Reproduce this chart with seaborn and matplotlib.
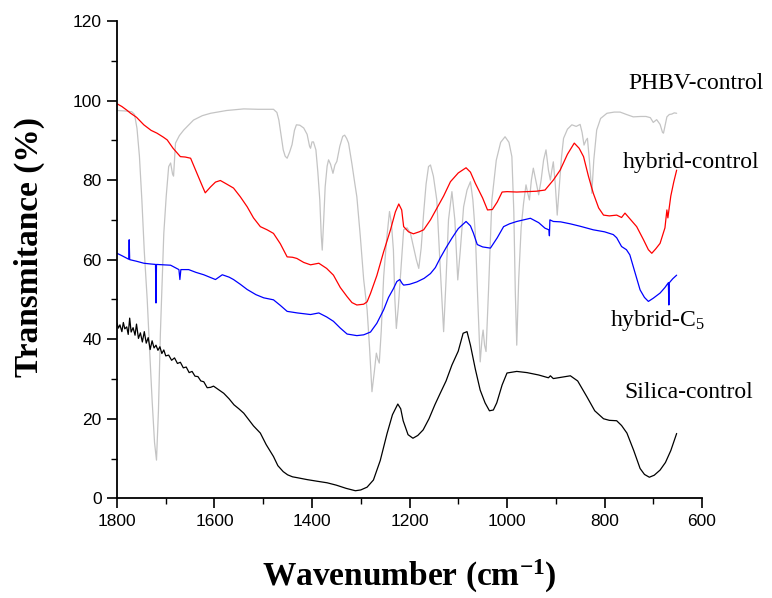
import numpy as np
import pandas as pd
import matplotlib
matplotlib.use("Agg")
import matplotlib.pyplot as plt
from matplotlib.ticker import MultipleLocator
import seaborn as sns

# ---------------- data ----------------
silica_wn = [1800, 1797, 1794, 1790, 1787, 1784, 1780, 1777, 1774, 1771, 1767, 1763, 1760, 1756, 1752, 1748, 1744,
             1740, 1736, 1732, 1728, 1724, 1720, 1716, 1712, 1708, 1704, 1700, 1694, 1688, 1682, 1676,
             1670, 1664, 1658, 1652, 1646, 1640, 1634, 1628, 1622, 1615, 1608, 1602, 1595, 1588, 1581,
             1570, 1560, 1550, 1540, 1530, 1520, 1506, 1494, 1479, 1470, 1459, 1450, 1440, 1431, 1410,
             1390, 1369, 1350, 1330, 1311, 1300, 1287, 1274, 1260, 1246, 1235, 1224, 1218, 1213, 1203,
             1193, 1183, 1172, 1160, 1148, 1137, 1125, 1113, 1100, 1090, 1082, 1075, 1065, 1055, 1045,
             1036, 1028, 1021, 1010, 1000, 980, 959, 935, 915, 911, 905, 890, 870, 855, 836, 820, 802,
             790, 775, 765, 754, 740, 727, 718, 708, 698, 686, 675, 664, 652]
silica_t = [44.0, 42.8, 43.6, 41.9, 44.2, 42.6, 43.1, 41.2, 45.3, 41.8, 42.9, 41.0, 43.8, 40.2, 41.6, 39.3, 41.9,
            39.0, 40.4, 37.4, 39.6, 37.8, 38.5, 37.2, 38.1, 36.4, 37.3, 35.8, 36.0, 34.7, 35.3, 33.9,
            34.2, 32.8, 33.0, 31.6, 31.9, 30.7, 30.6, 29.5, 29.3, 27.8, 27.9, 28.2, 27.6, 27.0, 26.4,
            25.0, 23.5, 22.5, 21.4, 19.8, 18.2, 16.4, 13.5, 10.5, 8.2, 6.7, 5.9, 5.4, 5.2, 4.7,
            4.3, 3.9, 3.3, 2.5, 1.9, 2.1, 2.8, 4.6, 9.5, 16.3, 21.0, 23.7, 22.5, 19.5, 16.0,
            15.1, 15.8, 17.2, 20.0, 23.5, 26.4, 29.5, 33.5, 37.0, 41.5, 41.9, 38.5, 32.5, 27.2, 24.0,
            22.0, 22.2, 24.0, 28.5, 31.5, 31.9, 31.6, 31.0, 30.3, 30.8, 30.1, 30.4, 30.8, 29.5, 25.5, 22.0, 20.0,
            19.6, 19.5, 18.3, 16.4, 12.0, 7.5, 6.0, 5.3, 5.8, 7.1, 9.0, 12.0, 16.3]

hybrid_ctrl_wn = [1800, 1790, 1780, 1772, 1760, 1745, 1730, 1718, 1705, 1697, 1685, 1670, 1660, 1649, 1636,
                  1625, 1619, 1608, 1598, 1588, 1575, 1561, 1547, 1533, 1520, 1506, 1492, 1479, 1465, 1451,
                  1440, 1431, 1417, 1403, 1386, 1370, 1356, 1342, 1328, 1318, 1308, 1294, 1287, 1280, 1267,
                  1253, 1239, 1229, 1222, 1216, 1212, 1202, 1192, 1180, 1171, 1157, 1144, 1130, 1116, 1100,
                  1084, 1075, 1065, 1050, 1040, 1030, 1020, 1010, 1000, 980, 959, 940, 922, 905, 891,
                  876, 862, 852, 843, 833, 823, 812, 802, 790, 775, 765, 758, 746, 734, 720,
                  710, 703, 695, 686, 676, 672, 670, 664, 658, 652]
hybrid_ctrl_t = [99.2, 98.5, 97.6, 96.8, 95.8, 93.9, 92.5, 91.8, 90.8, 90.1, 88.0, 85.9, 85.8, 85.5, 81.7,
                 78.5, 76.8, 78.3, 79.5, 79.9, 79.0, 78.0, 75.8, 73.3, 70.5, 68.3, 67.5, 66.6, 64.0, 60.7,
                 60.6, 60.3, 59.3, 58.7, 59.1, 57.8, 56.1, 53.0, 50.7, 49.2, 48.6, 48.8, 49.4, 51.5, 56.0,
                 62.0, 67.5, 72.0, 74.0, 72.5, 68.3, 67.0, 66.5, 67.0, 67.5, 70.0, 72.9, 76.0, 79.6, 81.8,
                 83.1, 82.0, 79.2, 75.5, 72.5, 72.6, 74.5, 77.0, 77.1, 77.0, 77.1, 77.2, 77.5, 80.0, 82.5,
                 86.5, 89.3, 88.0, 85.9, 81.0, 76.7, 73.0, 71.2, 71.0, 71.2, 70.6, 71.7, 70.0, 68.3, 65.0,
                 62.5, 61.6, 62.7, 64.1, 68.0, 72.5, 70.5, 76.0, 79.5, 82.5]

hybrid_c5_wn = [1800, 1790, 1779, 1776, 1775, 1774, 1760, 1745, 1730, 1721, 1720, 1719, 1705, 1690, 1673,
                1671, 1669, 1653, 1638, 1622, 1610, 1598, 1584, 1570, 1561, 1547, 1533, 1515, 1499, 1479,
                1465, 1451, 1430, 1403, 1386, 1370, 1356, 1342, 1328, 1308, 1294, 1280, 1267, 1253, 1243,
                1233, 1226, 1220, 1215, 1212, 1200, 1185, 1170, 1157, 1147, 1137, 1125, 1113, 1100, 1084,
                1075, 1069, 1061, 1050, 1034, 1020, 1007, 995, 980, 966, 952, 935, 922, 914, 913,
                912, 905, 890, 870, 850, 823, 800, 782, 775, 765, 755, 748, 738, 727, 718,
                710, 700, 686, 676, 669, 668, 667, 660, 652]
hybrid_c5_t = [61.6, 61.0, 60.3, 60.1, 65.0, 60.0, 59.6, 59.1, 58.9, 58.8, 49.1, 58.8, 58.7, 58.6, 57.5,
               55.0, 57.5, 57.5, 56.8, 56.2, 55.6, 55.0, 56.2, 55.6, 55.0, 53.8, 52.5, 51.2, 50.4, 49.9,
               48.5, 47.0, 46.6, 46.2, 46.6, 45.6, 44.5, 42.8, 41.3, 40.9, 41.1, 41.8, 44.0, 47.4, 50.5,
               52.7, 54.5, 55.0, 54.0, 53.6, 53.8, 54.4, 55.3, 56.5, 58.0, 60.4, 63.0, 65.4, 67.8, 69.6,
               68.5, 66.7, 63.8, 63.2, 62.9, 65.5, 68.3, 69.0, 69.6, 70.0, 70.4, 69.3, 67.9, 67.5, 66.0,
               70.0, 69.6, 69.5, 69.0, 68.4, 67.5, 67.0, 66.3, 65.5, 63.3, 62.5, 61.2, 57.0, 52.4, 50.5,
               49.5, 50.3, 51.6, 53.0, 54.2, 48.6, 54.2, 55.2, 56.1]

phbv_wn = [1800, 1785, 1770, 1764, 1759, 1754, 1749, 1744, 1738, 1733, 1728, 1723, 1719, 1715, 1711,
           1707, 1704, 1699, 1694, 1690, 1686, 1684, 1680, 1672, 1663, 1643, 1625, 1608, 1575, 1540,
           1510, 1479, 1472, 1468, 1463, 1459, 1455, 1451, 1446, 1441, 1436, 1432, 1425, 1417, 1410,
           1405, 1403, 1400, 1397, 1392, 1388, 1384, 1381, 1379, 1376, 1373, 1369, 1366, 1362, 1357,
           1353, 1349, 1343, 1337, 1333, 1329, 1325, 1318, 1312, 1308, 1301, 1294, 1287, 1282, 1277,
           1272, 1268, 1265, 1262, 1258, 1253, 1247, 1241, 1237, 1233, 1230, 1227, 1223, 1219, 1212,
           1205, 1198, 1192, 1186, 1181, 1176, 1171, 1166, 1161, 1157, 1151, 1144, 1137, 1130, 1125,
           1120, 1113, 1107, 1101, 1096, 1089, 1082, 1075, 1070, 1065, 1060, 1055, 1051, 1049, 1046,
           1043, 1038, 1031, 1022, 1013, 1004, 996, 990, 986, 983, 980, 976, 971, 966, 961,
           958, 954, 950, 946, 941, 935, 930, 925, 920, 915, 911, 908, 905, 901, 897,
           893, 888, 884, 876, 867, 858, 850, 846, 842, 838, 835, 831, 826, 822, 816,
           808, 795, 780, 768, 755, 741, 725, 715, 706, 700, 693, 686, 681, 679, 676,
           672, 667, 662, 657, 652]
phbv_t = [97.5, 97.4, 97.2, 96.5, 93.0, 86.0, 75.0, 62.0, 49.9, 37.0, 24.7, 14.0, 9.6, 22.0, 41.5,
          56.0, 66.6, 76.0, 83.4, 84.3, 81.5, 81.0, 89.3, 91.2, 92.6, 95.1, 96.2, 96.8, 97.5, 97.9,
          97.8, 97.8, 97.0, 95.1, 91.0, 87.6, 86.0, 85.5, 87.0, 88.9, 92.5, 93.9, 93.8, 93.1, 91.5,
          88.5, 88.0, 89.6, 89.6, 87.6, 82.0, 75.0, 66.0, 62.4, 70.0, 78.3, 83.5, 85.1, 84.0, 81.7,
          83.8, 84.7, 88.5, 91.0, 91.3, 90.5, 89.3, 84.0, 79.0, 75.8, 66.0, 55.0, 47.5, 38.0, 26.8,
          32.0, 36.5, 35.0, 34.0, 42.0, 55.7, 65.0, 72.1, 69.0, 62.4, 50.0, 42.7, 48.0, 54.9, 67.5,
          68.0, 66.6, 63.3, 60.0, 57.8, 63.0, 71.7, 79.0, 83.4, 83.8, 81.0, 75.0, 58.0, 41.9, 55.0,
          70.0, 77.1, 70.0, 54.9, 62.0, 73.3, 77.5, 79.6, 75.0, 66.6, 50.0, 34.3, 40.5, 42.3, 38.5,
          36.9, 52.0, 75.0, 85.0, 89.5, 90.9, 89.5, 85.9, 72.0, 52.0, 38.5, 55.0, 68.0, 74.2, 78.8,
          77.0, 75.0, 80.0, 83.0, 80.0, 76.3, 80.0, 85.0, 87.6, 82.5, 80.0, 82.5, 84.6, 79.0, 71.2,
          78.0, 86.0, 90.5, 92.8, 93.9, 93.5, 94.0, 92.0, 88.8, 90.0, 90.5, 85.0, 76.7, 85.0, 92.6,
          95.5, 96.8, 97.1, 97.1, 96.5, 95.9, 96.0, 96.0, 95.7, 94.5, 95.2, 94.0, 92.0, 91.8, 93.5,
          95.9, 96.5, 96.6, 96.9, 96.8]

series_names = ["PHBV-control", "hybrid-control", "hybrid-C5", "Silica-control"]
series_colors = ["#c4c4c4", "#ff0000", "#0000ff", "#000000"]
x_ticks = [1800, 1600, 1400, 1200, 1000, 800, 600]
y_ticks = [0, 20, 40, 60, 80, 100, 120]

# ---------------- figure ----------------
sns.set_style("ticks")
plt.rcParams["font.family"] = ["Liberation Sans", "DejaVu Sans"]
plt.rcParams["mathtext.fontset"] = "custom"
plt.rcParams["mathtext.rm"] = "Liberation Serif"
plt.rcParams["mathtext.it"] = "Liberation Serif:italic"
plt.rcParams["mathtext.bf"] = "Liberation Serif:bold"
for key in ["text.color", "axes.labelcolor", "xtick.color", "ytick.color", "axes.edgecolor"]:
    plt.rcParams[key] = "black"

fig = plt.figure(figsize=(7.72, 5.98), dpi=100)
ax = fig.add_axes([117 / 772, 1 - 498.3 / 598, (702 - 117) / 772, (498.3 - 21) / 598])

datasets = [(phbv_wn, phbv_t), (hybrid_ctrl_wn, hybrid_ctrl_t),
            (hybrid_c5_wn, hybrid_c5_t), (silica_wn, silica_t)]
for (wn, t), name, col in zip(datasets, series_names, series_colors):
    df = pd.DataFrame({"wn": wn, "T": t})
    sns.lineplot(data=df, x="wn", y="T", ax=ax, color=col, lw=0.9,
                 estimator=None, sort=True, legend=False)

ax.set_xlim(1800, 600)
ax.set_ylim(0, 120)
ax.set_xticks(x_ticks)
ax.set_yticks(y_ticks)
ax.xaxis.set_minor_locator(MultipleLocator(100))
ax.yaxis.set_minor_locator(MultipleLocator(10))
ax.tick_params(which="major", direction="out", length=7, width=1.2, labelsize=12.5, pad=4,
               color="black", labelcolor="black")
ax.tick_params(which="minor", direction="out", length=4, width=1.0, color="black")
for side in ["top", "right"]:
    ax.spines[side].set_visible(False)
for side in ["left", "bottom"]:
    ax.spines[side].set_linewidth(1.3)
    ax.spines[side].set_color("black")

ax.set_xlabel("Wavenumber (cm$^{\\mathbf{-1}}$)", family="Liberation Serif",
              fontweight="bold", fontsize=24, color="black")
ax.set_ylabel("Transmitance (%)", family="Liberation Serif", fontweight="bold", fontsize=24,
              color="black")
ax.xaxis.set_label_coords(0.5, -0.125)
ax.yaxis.set_label_coords(-0.123, 0.5275)

lab_kw = dict(family="Liberation Serif", fontsize=17, ha="center", va="center", color="black")
ax.text(612, 104.4, "PHBV-control", **lab_kw)
ax.text(622, 84.3, "hybrid-control", **lab_kw)
ax.text(789, 44.8, "hybrid-C$_5$", family="Liberation Serif", fontsize=17,
        ha="left", va="center", color="black")
ax.text(628, 26.5, "Silica-control", **lab_kw)

fig.savefig("out.png", dpi=100)
